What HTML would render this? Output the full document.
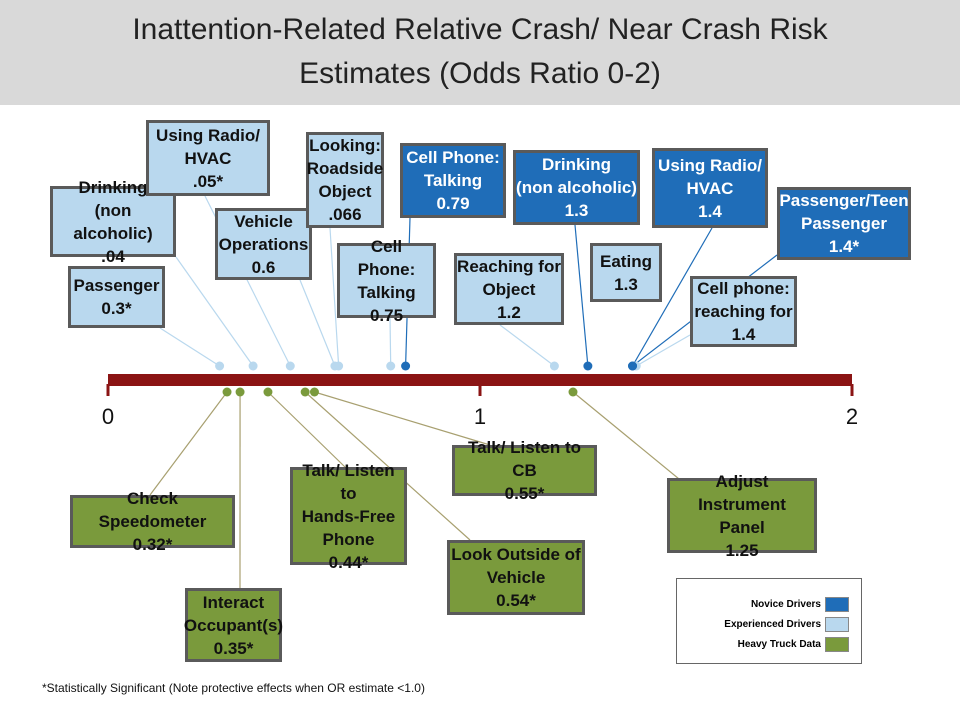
<!DOCTYPE html>
<html><head><meta charset="utf-8">
<style>
body{margin:0;background:#fff;}
#wrap{position:relative;width:960px;height:720px;overflow:hidden;font-family:"Liberation Sans Narrow","Liberation Sans",sans-serif;}
#title{position:absolute;left:0;top:0;width:960px;height:105px;background:#d9d9d9;text-align:center;color:#222;font-family:"Liberation Sans",sans-serif;font-size:30px;line-height:44px;padding-top:8px;box-sizing:border-box;}
.box{position:absolute;box-sizing:border-box;border:3px solid #5a5a5a;text-align:center;font-weight:bold;font-size:17px;line-height:23px;display:flex;align-items:center;justify-content:center;}
.exp{background:#b9d8ee;color:#111;}
.nov{background:#1f6db8;color:#fff;}
.trk{background:#7a9a3c;color:#111;}
svg{position:absolute;left:0;top:0;}
#foot{position:absolute;left:42px;top:681px;font-family:"Liberation Sans",sans-serif;font-size:12px;color:#111;}
#legend{position:absolute;left:676px;top:578px;width:186px;height:86px;border:1px solid #666;box-sizing:border-box;}
.lg{position:absolute;right:12px;font-family:"Liberation Sans Narrow","Liberation Sans",sans-serif;font-weight:bold;font-size:10px;display:flex;align-items:center;gap:4px;}
.sw{width:22px;height:13px;border:1px solid #888;display:inline-block;}
</style></head>
<body>
<div id="wrap">
<div id="title">Inattention-Related Relative Crash/ Near Crash Risk<br>Estimates (Odds Ratio 0-2)</div>
<svg id="plot" width="960" height="720"></svg>

<div class="box exp" style="left:68px;top:266px;width:97px;height:62px">Passenger<br>0.3*</div>
<div class="box exp" style="left:50px;top:186px;width:126px;height:71px">Drinking<br>(non alcoholic)<br>.04</div>
<div class="box exp" style="left:146px;top:120px;width:124px;height:76px">Using Radio/<br>HVAC<br>.05*</div>
<div class="box exp" style="left:215px;top:208px;width:97px;height:72px">Vehicle<br>Operations<br>0.6</div>
<div class="box exp" style="left:306px;top:132px;width:78px;height:96px">Looking:<br>Roadside<br>Object<br>.066</div>
<div class="box exp" style="left:337px;top:243px;width:99px;height:75px">Cell Phone:<br>Talking<br>0.75</div>
<div class="box exp" style="left:454px;top:253px;width:110px;height:72px">Reaching for<br>Object<br>1.2</div>
<div class="box exp" style="left:590px;top:243px;width:72px;height:59px">Eating<br>1.3</div>
<div class="box exp" style="left:690px;top:276px;width:107px;height:71px">Cell phone:<br>reaching for<br>1.4</div>

<div class="box nov" style="left:400px;top:143px;width:106px;height:75px">Cell Phone:<br>Talking<br>0.79</div>
<div class="box nov" style="left:513px;top:150px;width:127px;height:75px">Drinking<br>(non alcoholic)<br>1.3</div>
<div class="box nov" style="left:652px;top:148px;width:116px;height:80px">Using Radio/<br>HVAC<br>1.4</div>
<div class="box nov" style="left:777px;top:187px;width:134px;height:73px">Passenger/Teen<br>Passenger<br>1.4*</div>

<div class="box trk" style="left:70px;top:495px;width:165px;height:53px">Check Speedometer<br>0.32*</div>
<div class="box trk" style="left:185px;top:588px;width:97px;height:74px">Interact<br>Occupant(s)<br>0.35*</div>
<div class="box trk" style="left:290px;top:467px;width:117px;height:98px">Talk/ Listen to<br>Hands-Free<br>Phone<br>0.44*</div>
<div class="box trk" style="left:452px;top:445px;width:145px;height:51px">Talk/ Listen to CB<br>0.55*</div>
<div class="box trk" style="left:447px;top:540px;width:138px;height:75px">Look Outside of<br>Vehicle<br>0.54*</div>
<div class="box trk" style="left:667px;top:478px;width:150px;height:75px">Adjust Instrument<br>Panel<br>1.25</div>

<div id="legend">
 <div class="lg" style="top:18px">Novice Drivers <span class="sw" style="background:#1f6db8"></span></div>
 <div class="lg" style="top:38px">Experienced Drivers <span class="sw" style="background:#b9d8ee"></span></div>
 <div class="lg" style="top:58px">Heavy Truck Data <span class="sw" style="background:#7a9a3c"></span></div>
</div>
<div id="foot">*Statistically Significant (Note protective effects when OR estimate &lt;1.0)</div>
</div>
<script>
const expValues=[0.30,0.39,0.49,0.61,0.62,0.76,1.20,1.42];
const expAnchorX=[160,176,205,300,330,390,500,690];
const expAnchorY=[328,257,196,280,228,318,325,335];
const novValues=[0.80,1.29,1.41,1.41];
const novAnchorX=[410,575,712,777];
const novAnchorY=[218,225,228,255];
const trkValues=[0.32,0.355,0.43,0.53,0.555,1.25];
const trkAnchorX=[150,240,345,470,490,690];
const trkAnchorY=[495,588,467,540,445,488];
const tickLabels=["0","1","2"];
const svg=document.getElementById('plot');
const NS='http://www.w3.org/2000/svg';
function xs(v){return 108+v*372;}
function mk(t,a){const e=document.createElementNS(NS,t);for(const k in a)e.setAttribute(k,a[k]);svg.appendChild(e);return e;}
// leader lines
expValues.forEach((v,i)=>{const l=mk('line',{x1:expAnchorX[i],y1:expAnchorY[i],x2:xs(v),y2:366,stroke:'#b9d8ee','stroke-width':1.2});

});
novValues.forEach((v,i)=>{const l=mk('line',{x1:novAnchorX[i],y1:novAnchorY[i],x2:xs(v),y2:366,stroke:'#1f6db8','stroke-width':1.2});

});
trkValues.forEach((v,i)=>{const l=mk('line',{x1:xs(v),y1:392,x2:trkAnchorX[i],y2:trkAnchorY[i],stroke:'#a8a070','stroke-width':1.2});

});
// axis bar
const bar=mk('rect',{x:108,y:374,width:744,height:12,fill:'#8b1414'});


tickLabels.forEach((t,i)=>{
 const tk=mk('rect',{x:xs(i)-1.5,y:384,width:3,height:12,fill:'#8b1414'});
 
 
 const tx=mk('text',{x:xs(i),y:424,'text-anchor':'middle','font-family':'Liberation Sans, sans-serif','font-size':22,fill:'#111'});
 tx.textContent=t;
 
 
});
expValues.forEach(v=>{const c=mk('circle',{cx:xs(v),cy:366,r:4.5,fill:'#b9d8ee'});

});
novValues.forEach(v=>{const c=mk('circle',{cx:xs(v),cy:366,r:4.5,fill:'#1f6db8'});

});
trkValues.forEach(v=>{const c=mk('circle',{cx:xs(v),cy:392,r:4.5,fill:'#7a9a3c'});

});
</script>
</body></html>
